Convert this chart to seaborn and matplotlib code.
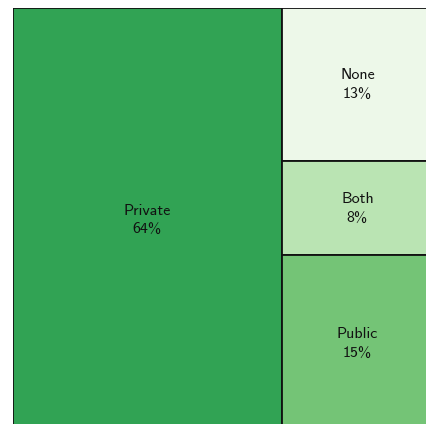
import numpy as np
import matplotlib
matplotlib.use("Agg")
import matplotlib.pyplot as plt
import seaborn as sns
from matplotlib.patches import Rectangle

# data
labels = ["Private", "None", "Both", "Public"]
values = [64, 13, 8, 15]
colors = ["#31a354", "#edf8e9", "#bae4b3", "#74c476"]

sns.set_theme(style="white")
plt.rcParams['font.family'] = ['cmss10', 'DejaVu Sans']
plt.rcParams['axes.formatter.use_mathtext'] = True

fig = plt.figure(figsize=(4.26, 4.24), dpi=100)
ax = fig.add_axes([13 / 426, -8 / 424, 420 / 426, 424 / 424])

total = sum(values)
# first block takes a full-height slice, the rest are stacked on the right
w0 = values[0] / total
rects = [(0, 0, w0, 1)]
rest = sum(values[1:])
top = 1.0
for v in values[1:]:
    h = v / rest
    rects.append((w0, top - h, 1 - w0, h))
    top -= h

for (x, y, w, h), lab, v, c in zip(rects, labels, values, colors):
    ax.add_patch(Rectangle((x, y), w, h, facecolor=c, edgecolor="#111111", linewidth=1.3))
    ax.text(x + w / 2, y + h / 2, f"{lab}\n{v}%", ha="center", va="center",
            fontsize=11.5, color="#111111", linespacing=1.4)

ax.set_xlim(0, 1)
ax.set_ylim(0, 1)
ax.axis("off")

plt.savefig("out.png", dpi=100)
